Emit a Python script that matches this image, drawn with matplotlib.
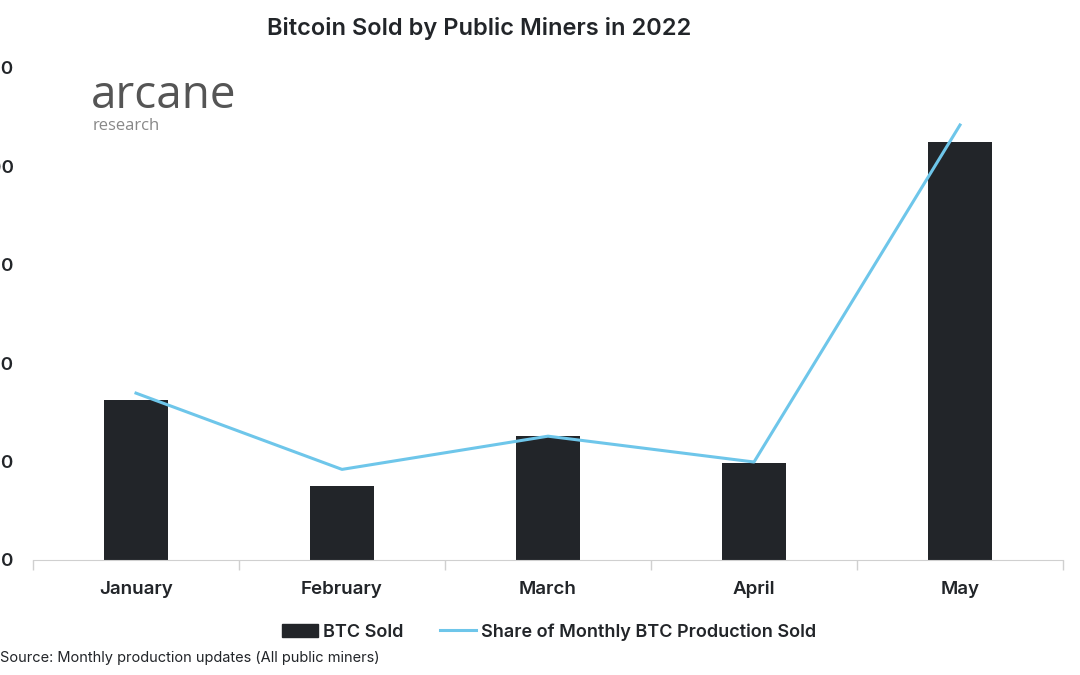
import matplotlib
matplotlib.use("Agg")
import matplotlib.pyplot as plt
import numpy as np
from matplotlib.patches import Patch
from matplotlib.lines import Line2D

months = ["January", "February", "March", "April", "May"]
btc_sold = [1626, 755, 1260, 983, 4251]
share_sold = [40.7, 22.1, 30.2, 23.9, 106.1]
y_ticks = [0, 1000, 2000, 3000, 4000, 5000]

plt.rcParams['font.family'] = ['Inter', 'DejaVu Sans']

BAR = "#222529"
LINE = "#6ec6ea"
TXT = "#222529"

fig = plt.figure(figsize=(10.8, 6.75), dpi=100)
ax = fig.add_axes([33/1080, 1-560/675, 1030/1080, (560-68)/675])
x = np.arange(len(months))
ax.bar(x, btc_sold, width=0.315, color=BAR, zorder=2)
ax.set_xlim(-0.5, len(months)-0.5)
ax.set_ylim(0, 5000)
ax.set_yticks(y_ticks)
ax.set_yticklabels([str(v) for v in y_ticks], fontsize=13.5, fontweight='semibold', color=TXT)
ax.tick_params(axis='y', length=0, pad=14)
ax.set_xticks(x)
ax.set_xticklabels(months, fontsize=13.5, fontweight='semibold', color=TXT)
ax.tick_params(axis='x', which='major', length=0, pad=15)
ax.set_xticks(np.arange(-0.5, len(months), 1), minor=True)
ax.tick_params(axis='x', which='minor', length=7, color="#d0d0d0", width=1)
for s in ['top', 'right', 'left']:
    ax.spines[s].set_visible(False)
ax.spines['bottom'].set_color("#d0d0d0")

ax2 = ax.twinx()
ax2.plot(x, share_sold, color=LINE, lw=2.2, zorder=3)
ax2.set_ylim(0, 120)
ax2.set_yticks([])
for s in ['top', 'right', 'left', 'bottom']:
    ax2.spines[s].set_visible(False)

fig.text(479/1080, 1-28/675, "Bitcoin Sold by Public Miners in 2022", ha='center', va='center',
         fontsize=17, fontweight='semibold', color=TXT)
fig.text(91/1080, 1-108/675, "arcane", ha='left', va='baseline', fontsize=33, fontweight='normal',
         color="#555555", family=['Open Sans', 'DejaVu Sans'])
fig.text(93/1080, 1-130/675, "research", ha='left', va='baseline', fontsize=12, color="#888888",
         family=['Open Sans', 'DejaVu Sans'])

handles = [Patch(facecolor=BAR, edgecolor=BAR), Line2D([0], [0], color=LINE, lw=2.2)]
labels = ["BTC Sold", "Share of Monthly BTC Production Sold"]
fig.legend(handles, labels, loc='center', bbox_to_anchor=(549/1080, 1-632/675), ncol=2, frameon=False,
           prop={'size': 13, 'weight': 'semibold'}, handlelength=2.0, handletextpad=0.3,
           columnspacing=2.0, labelcolor=TXT)
fig.text(0/1080, 1-658/675, "Source: Monthly production updates (All public miners)", ha='left', va='center',
         fontsize=10.5, color=TXT)

fig.savefig("out.png", dpi=100)
